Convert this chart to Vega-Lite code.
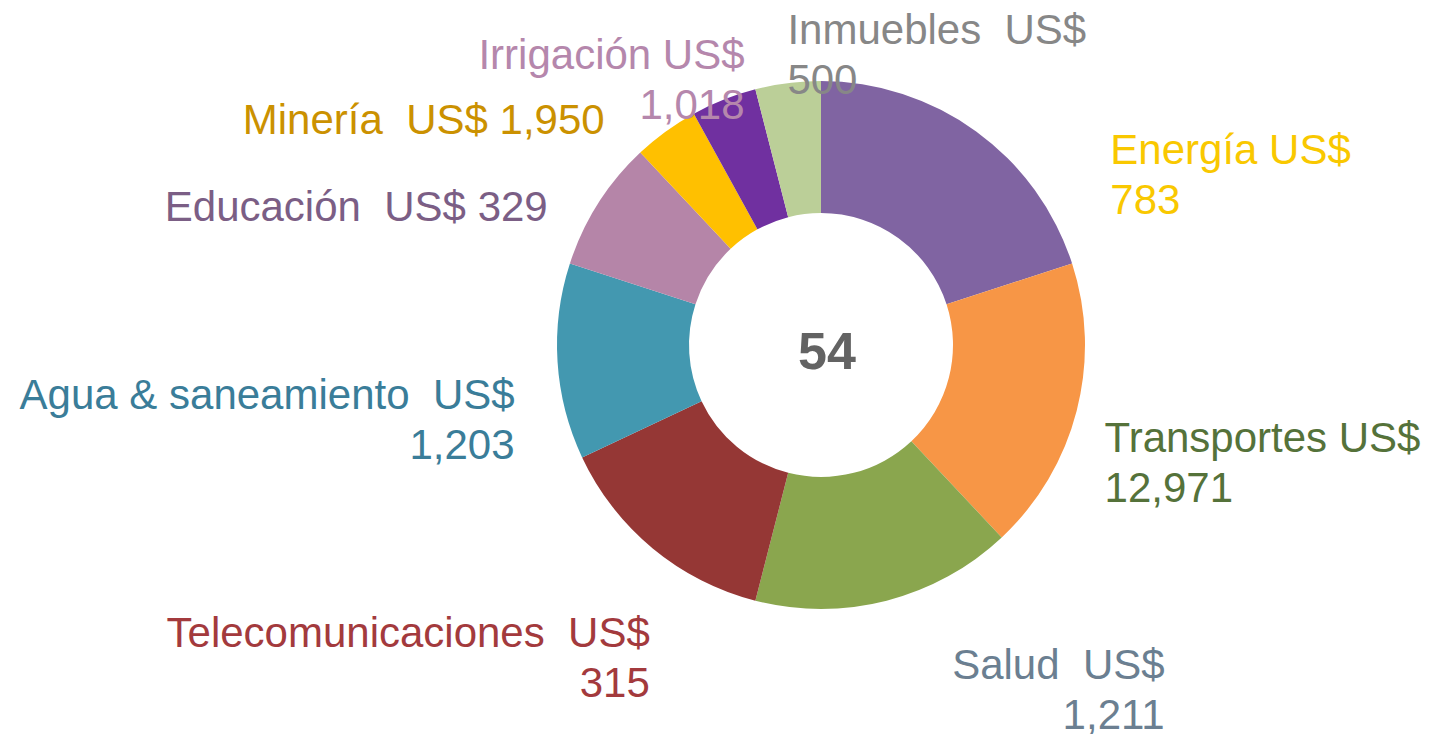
{
  "$schema": "https://vega.github.io/schema/vega-lite/v6.json",
  "autosize": {"type": "none"},
  "width": 600,
  "height": 600,
  "padding": {"left": 521, "top": 45, "right": 308, "bottom": 89},
  "background": "white",
  "config": {"view": {"stroke": null}, "text": {"lineBreak": "\n"}},
  "data": {
    "values": [
      {"sector": "Energía", "share": 20, "label": "Energía US$\n783"},
      {"sector": "Transportes", "share": 18, "label": "Transportes US$\n12,971"},
      {"sector": "Salud", "share": 16, "label": "Salud \u00a0US$\n1,211"},
      {"sector": "Telecomunicaciones", "share": 14, "label": "Telecomunicaciones \u00a0US$\n315"},
      {"sector": "Agua & saneamiento", "share": 12, "label": "Agua & saneamiento \u00a0US$\n1,203"},
      {"sector": "Educación", "share": 8, "label": "Educación \u00a0US$ 329"},
      {"sector": "Minería", "share": 4, "label": "Minería \u00a0US$ 1,950"},
      {"sector": "Irrigación", "share": 4, "label": "Irrigación US$\n1,018"},
      {"sector": "Inmuebles", "share": 4, "label": "Inmuebles \u00a0US$\n500"}
    ]
  },
  "transform": [{"window": [{"op": "row_number", "as": "rank"}]}],
  "resolve": {"scale": {"color": "independent"}},
  "layer": [
    {
      "mark": {"type": "arc", "radius": 264, "radius2": 132},
      "encoding": {
        "theta": {"field": "share", "type": "quantitative", "stack": true},
        "order": {"field": "rank", "type": "quantitative"},
        "color": {
          "field": "sector", "type": "nominal", "legend": null,
          "scale": {
            "domain": ["Energía", "Transportes", "Salud", "Telecomunicaciones", "Agua & saneamiento", "Educación", "Minería", "Irrigación", "Inmuebles"],
            "range": ["#8064A2", "#F79646", "#8AA64E", "#953735", "#4398B0", "#B585A8", "#FFC000", "#7030A0", "#BBCF98"]
          }
        }
      }
    },
    {
      "mark": {"type": "text", "radius": 300, "align": "left", "baseline": "middle", "dx": 113, "dy": 49, "font": "Liberation Sans", "fontSize": 42, "lineHeight": 50},
      "encoding": {
        "theta": {"field": "share", "type": "quantitative", "stack": true},
        "order": {"field": "rank", "type": "quantitative"},
        "color": {"field": "sector", "type": "nominal", "legend": null, "scale": {"domain": ["Energía", "Transportes", "Salud", "Telecomunicaciones", "Agua & saneamiento", "Educación", "Minería", "Irrigación", "Inmuebles"], "range": ["#F9C800", "#55723A", "#6B7F91", "#A33A3D", "#3A7D99", "#7B5E85", "#CB9100", "#B587AC", "#878787"]}},
        "text": {"field": "label", "type": "nominal", "condition": {"test": "datum.sector !== 'Energía'", "value": ""}}
      }
    },
    {
      "mark": {"type": "text", "radius": 300, "align": "left", "baseline": "middle", "dx": -7, "dy": 19, "font": "Liberation Sans", "fontSize": 42, "lineHeight": 50},
      "encoding": {
        "theta": {"field": "share", "type": "quantitative", "stack": true},
        "order": {"field": "rank", "type": "quantitative"},
        "color": {"field": "sector", "type": "nominal", "legend": null, "scale": {"domain": ["Energía", "Transportes", "Salud", "Telecomunicaciones", "Agua & saneamiento", "Educación", "Minería", "Irrigación", "Inmuebles"], "range": ["#F9C800", "#55723A", "#6B7F91", "#A33A3D", "#3A7D99", "#7B5E85", "#CB9100", "#B587AC", "#878787"]}},
        "text": {"field": "label", "type": "nominal", "condition": {"test": "datum.sector !== 'Transportes'", "value": ""}}
      }
    },
    {
      "mark": {"type": "text", "radius": 300, "align": "right", "baseline": "middle", "dx": 269, "dy": 30, "font": "Liberation Sans", "fontSize": 42, "lineHeight": 50},
      "encoding": {
        "theta": {"field": "share", "type": "quantitative", "stack": true},
        "order": {"field": "rank", "type": "quantitative"},
        "color": {"field": "sector", "type": "nominal", "legend": null, "scale": {"domain": ["Energía", "Transportes", "Salud", "Telecomunicaciones", "Agua & saneamiento", "Educación", "Minería", "Irrigación", "Inmuebles"], "range": ["#F9C800", "#55723A", "#6B7F91", "#A33A3D", "#3A7D99", "#7B5E85", "#CB9100", "#B587AC", "#878787"]}},
        "text": {"field": "label", "type": "nominal", "condition": {"test": "datum.sector !== 'Salud'", "value": ""}}
      }
    },
    {
      "mark": {"type": "text", "radius": 300, "align": "right", "baseline": "middle", "dx": 20, "dy": 58, "font": "Liberation Sans", "fontSize": 42, "lineHeight": 50},
      "encoding": {
        "theta": {"field": "share", "type": "quantitative", "stack": true},
        "order": {"field": "rank", "type": "quantitative"},
        "color": {"field": "sector", "type": "nominal", "legend": null, "scale": {"domain": ["Energía", "Transportes", "Salud", "Telecomunicaciones", "Agua & saneamiento", "Educación", "Minería", "Irrigación", "Inmuebles"], "range": ["#F9C800", "#55723A", "#6B7F91", "#A33A3D", "#3A7D99", "#7B5E85", "#CB9100", "#B587AC", "#878787"]}},
        "text": {"field": "label", "type": "nominal", "condition": {"test": "datum.sector !== 'Telecomunicaciones'", "value": ""}}
      }
    },
    {
      "mark": {"type": "text", "radius": 300, "align": "right", "baseline": "middle", "dx": -7, "dy": 32, "font": "Liberation Sans", "fontSize": 42, "lineHeight": 50},
      "encoding": {
        "theta": {"field": "share", "type": "quantitative", "stack": true},
        "order": {"field": "rank", "type": "quantitative"},
        "color": {"field": "sector", "type": "nominal", "legend": null, "scale": {"domain": ["Energía", "Transportes", "Salud", "Telecomunicaciones", "Agua & saneamiento", "Educación", "Minería", "Irrigación", "Inmuebles"], "range": ["#F9C800", "#55723A", "#6B7F91", "#A33A3D", "#3A7D99", "#7B5E85", "#CB9100", "#B587AC", "#878787"]}},
        "text": {"field": "label", "type": "nominal", "condition": {"test": "datum.sector !== 'Agua & saneamiento'", "value": ""}}
      }
    },
    {
      "mark": {"type": "text", "radius": 300, "align": "right", "baseline": "middle", "dx": -20, "dy": 24, "font": "Liberation Sans", "fontSize": 42, "lineHeight": 50},
      "encoding": {
        "theta": {"field": "share", "type": "quantitative", "stack": true},
        "order": {"field": "rank", "type": "quantitative"},
        "color": {"field": "sector", "type": "nominal", "legend": null, "scale": {"domain": ["Energía", "Transportes", "Salud", "Telecomunicaciones", "Agua & saneamiento", "Educación", "Minería", "Irrigación", "Inmuebles"], "range": ["#F9C800", "#55723A", "#6B7F91", "#A33A3D", "#3A7D99", "#7B5E85", "#CB9100", "#B587AC", "#878787"]}},
        "text": {"field": "label", "type": "nominal", "condition": {"test": "datum.sector !== 'Educación'", "value": ""}}
      }
    },
    {
      "mark": {"type": "text", "radius": 300, "align": "right", "baseline": "middle", "dx": -40, "dy": 19, "font": "Liberation Sans", "fontSize": 42, "lineHeight": 50},
      "encoding": {
        "theta": {"field": "share", "type": "quantitative", "stack": true},
        "order": {"field": "rank", "type": "quantitative"},
        "color": {"field": "sector", "type": "nominal", "legend": null, "scale": {"domain": ["Energía", "Transportes", "Salud", "Telecomunicaciones", "Agua & saneamiento", "Educación", "Minería", "Irrigación", "Inmuebles"], "range": ["#F9C800", "#55723A", "#6B7F91", "#A33A3D", "#3A7D99", "#7B5E85", "#CB9100", "#B587AC", "#878787"]}},
        "text": {"field": "label", "type": "nominal", "condition": {"test": "datum.sector !== 'Minería'", "value": ""}}
      }
    },
    {
      "mark": {"type": "text", "radius": 300, "align": "right", "baseline": "middle", "dx": 34, "dy": -10, "font": "Liberation Sans", "fontSize": 42, "lineHeight": 50},
      "encoding": {
        "theta": {"field": "share", "type": "quantitative", "stack": true},
        "order": {"field": "rank", "type": "quantitative"},
        "color": {"field": "sector", "type": "nominal", "legend": null, "scale": {"domain": ["Energía", "Transportes", "Salud", "Telecomunicaciones", "Agua & saneamiento", "Educación", "Minería", "Irrigación", "Inmuebles"], "range": ["#F9C800", "#55723A", "#6B7F91", "#A33A3D", "#3A7D99", "#7B5E85", "#CB9100", "#B587AC", "#878787"]}},
        "text": {"field": "label", "type": "nominal", "condition": {"test": "datum.sector !== 'Irrigación'", "value": ""}}
      }
    },
    {
      "mark": {"type": "text", "radius": 300, "align": "left", "baseline": "middle", "dx": 4, "dy": -16, "font": "Liberation Sans", "fontSize": 42, "lineHeight": 50},
      "encoding": {
        "theta": {"field": "share", "type": "quantitative", "stack": true},
        "order": {"field": "rank", "type": "quantitative"},
        "color": {"field": "sector", "type": "nominal", "legend": null, "scale": {"domain": ["Energía", "Transportes", "Salud", "Telecomunicaciones", "Agua & saneamiento", "Educación", "Minería", "Irrigación", "Inmuebles"], "range": ["#F9C800", "#55723A", "#6B7F91", "#A33A3D", "#3A7D99", "#7B5E85", "#CB9100", "#B587AC", "#878787"]}},
        "text": {"field": "label", "type": "nominal", "condition": {"test": "datum.sector !== 'Inmuebles'", "value": ""}}
      }
    },
    {
      "data": {"values": [{"total": "54"}]},
      "mark": {"type": "text", "align": "center", "baseline": "middle", "dx": 6, "dy": 8, "font": "Liberation Sans", "fontSize": 52, "fontWeight": "bold", "color": "#636363"},
      "encoding": {
        "text": {"field": "total", "type": "nominal"}
      }
    }
  ]
}
